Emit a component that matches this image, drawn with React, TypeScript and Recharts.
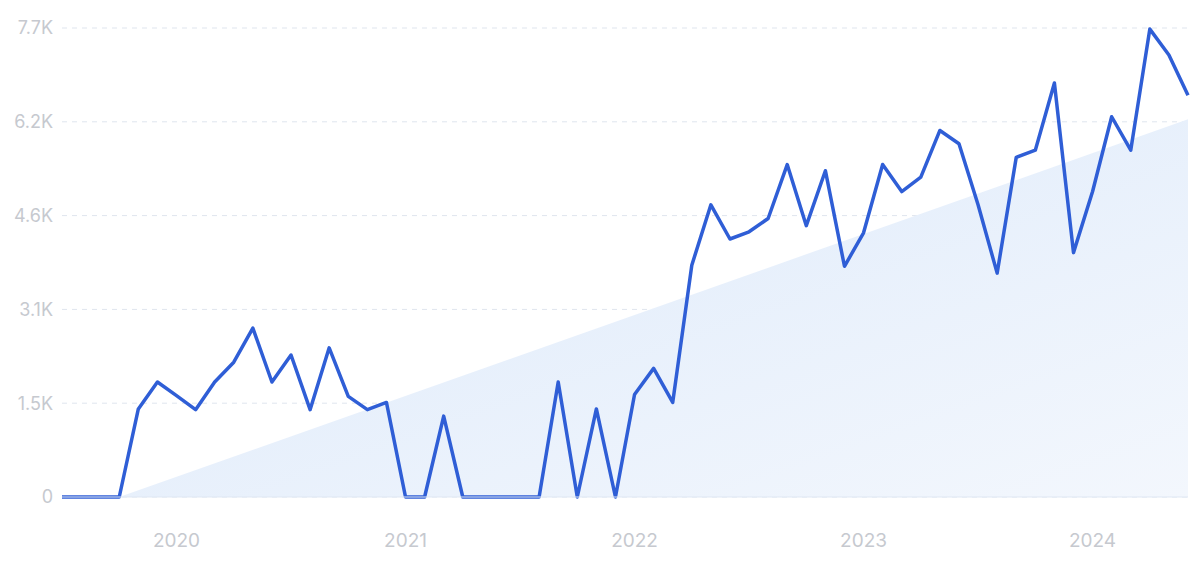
import { ComposedChart, Line, Area, XAxis, YAxis, CartesianGrid } from 'recharts'

// Monthly points, Jul 2019 – Jun 2024
const months = [
  '2019-07', '2019-08', '2019-09', '2019-10', '2019-11', '2019-12',
  '2020-01', '2020-02', '2020-03', '2020-04', '2020-05', '2020-06',
  '2020-07', '2020-08', '2020-09', '2020-10', '2020-11', '2020-12',
  '2021-01', '2021-02', '2021-03', '2021-04', '2021-05', '2021-06',
  '2021-07', '2021-08', '2021-09', '2021-10', '2021-11', '2021-12',
  '2022-01', '2022-02', '2022-03', '2022-04', '2022-05', '2022-06',
  '2022-07', '2022-08', '2022-09', '2022-10', '2022-11', '2022-12',
  '2023-01', '2023-02', '2023-03', '2023-04', '2023-05', '2023-06',
  '2023-07', '2023-08', '2023-09', '2023-10', '2023-11', '2023-12',
  '2024-01', '2024-02', '2024-03', '2024-04', '2024-05', '2024-06',
]

const searches = [
  0, 0, 0, 0, 1446, 1888,
  1664, 1434, 1888, 2213, 2773, 1888,
  2331, 1434, 2449, 1652, 1434, 1552,
  0, 0, 1328, 0, 0, 0,
  0, 0, 1888, 0, 1446, 0,
  1682, 2112, 1552, 3806, 4797, 4236,
  4354, 4573, 5458, 4455, 5357, 3788,
  4337, 5458, 5015, 5251, 6018, 5800,
  4797, 3676, 5576, 5694, 6797, 4012,
  5015, 6243, 5694, 7682, 7257, 6597,
]

// trend line: only its two end points are given
const trendStartMonth = '2019-10'
const trendStartValue = 0
const trendEndMonth = '2024-06'
const trendEndValue = 6200

const yTicks = [0, 1540, 3080, 4620, 6160, 7700]
const yTickLabels = ['0', '1.5K', '3.1K', '4.6K', '6.2K', '7.7K']

const data = months.map((m, i) => ({
  month: m,
  searches: searches[i],
  trend: m === trendStartMonth ? trendStartValue : m === trendEndMonth ? trendEndValue : null,
}))

const fontFamily = 'Inter, "Noto Sans", sans-serif'

export default function App() {
  return (
    <div style={{ position: 'absolute', left: 0, top: 0, width: 1200, height: 565, background: '#fff' }}>
      <ComposedChart
        width={1200}
        height={565}
        data={data}
        margin={{ top: 28, right: 12, left: 8, bottom: 28 }}
      >
        <defs>
          <linearGradient id="trendFill" x1="0" y1="0" x2="1" y2="1">
            <stop offset="0%" stopColor="#dce9fa" />
            <stop offset="100%" stopColor="#f3f7fd" />
          </linearGradient>
        </defs>
        <CartesianGrid vertical={false} stroke="#dfe5ee" strokeDasharray="5 5" />
        <XAxis
          dataKey="month"
          interval={0}
          tickLine={false}
          tickSize={0}
          tickMargin={37}
          height={40}
          axisLine={{ stroke: '#dfe7f3' }}
          tick={{ fill: '#c6c9cf', fontSize: 19, fontFamily }}
          tickFormatter={(m: string) => (m.endsWith('-01') ? m.slice(0, 4) : '')}
        />
        <YAxis
          width={54}
          domain={[0, 7700]}
          ticks={yTicks}
          interval={0}
          axisLine={false}
          tickLine={false}
          tickSize={0}
          tickMargin={9}
          tick={{ fill: '#c6c9cf', fontSize: 18, fontFamily }}
          tickFormatter={(v: number) => yTickLabels[yTicks.indexOf(v)]}
        />
        <Area
          dataKey="trend"
          type="linear"
          connectNulls
          stroke="none"
          fill="url(#trendFill)"
          fillOpacity={1}
          isAnimationActive={false}
          dot={false}
          activeDot={false}
        />
        <Line
          dataKey="searches"
          type="linear"
          stroke="#2f5ed6"
          strokeWidth={3.5}
          strokeLinejoin="round"
          dot={false}
          activeDot={false}
          isAnimationActive={false}
        />
      </ComposedChart>
    </div>
  )
}
